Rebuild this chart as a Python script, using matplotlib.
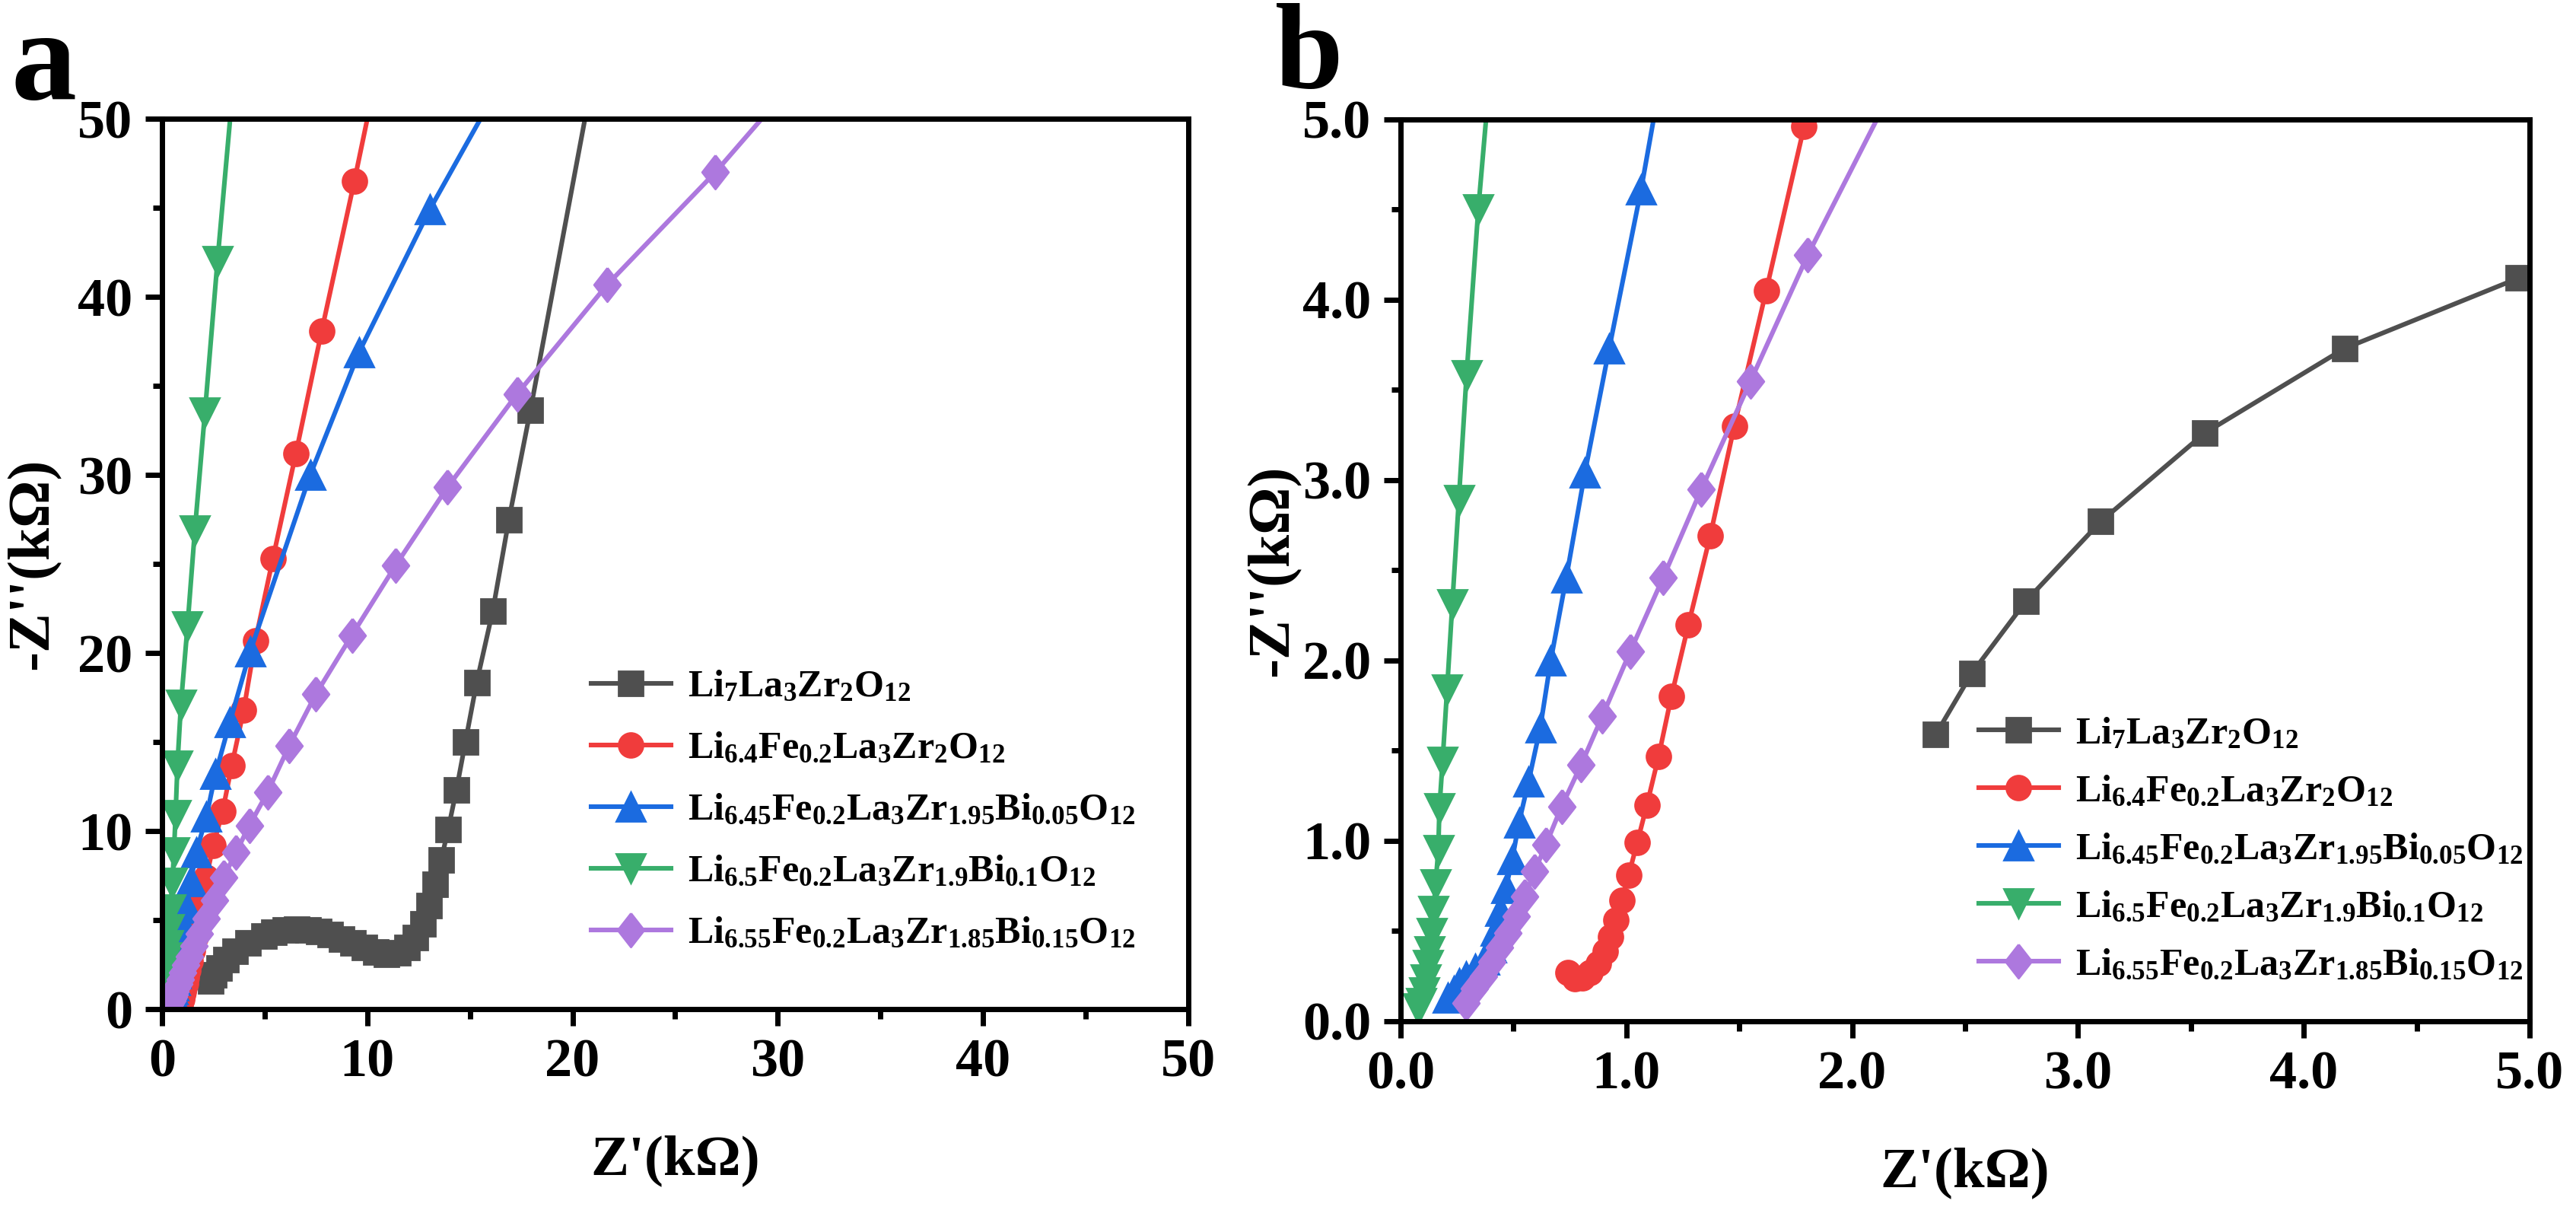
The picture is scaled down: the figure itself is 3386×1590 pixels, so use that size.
import matplotlib
matplotlib.use("Agg")
import matplotlib.pyplot as plt
from matplotlib.ticker import MultipleLocator, FormatStrFormatter

plt.rcParams["font.family"] = ["Liberation Serif", "DejaVu Serif"]
plt.rcParams["font.weight"] = "bold"
plt.rcParams["mathtext.fontset"] = "custom"
plt.rcParams["mathtext.rm"] = "Liberation Serif:bold"
plt.rcParams["mathtext.bf"] = "Liberation Serif:bold"
plt.rcParams["mathtext.it"] = "Liberation Serif:bold"

# Nyquist data, Z' and -Z'' in kOhm
llzo_x = [2.37, 2.53, 2.77, 3.10, 3.56, 4.18, 4.95, 5.45, 6.00, 6.55, 7.10, 7.65, 8.20,
          8.75, 9.30, 9.85, 10.40, 10.95, 11.50, 11.95, 12.35, 12.70, 13.00, 13.30,
          13.60, 13.94, 14.34, 14.78, 15.33, 16.11, 16.90, 17.95, 21.50]
llzo_y = [1.59, 1.93, 2.33, 2.77, 3.26, 3.73, 4.12, 4.33, 4.46, 4.50, 4.46, 4.35, 4.18,
          3.95, 3.70, 3.45, 3.22, 3.08, 3.15, 3.45, 4.00, 4.80, 5.80, 7.00,
          8.38, 10.10, 12.30, 15.00, 18.35, 22.35, 27.50, 33.65, 55.50]

fe_x = [0.74, 0.77, 0.805, 0.84, 0.875, 0.905, 0.93, 0.955, 0.98, 1.01, 1.048, 1.091,
        1.143, 1.199, 1.275, 1.371, 1.478, 1.619, 1.787, 1.98, 2.16, 2.50, 2.95, 3.40,
        3.98, 4.55, 5.40, 6.52, 7.78, 9.37, 11.25]
fe_y = [0.27, 0.235, 0.24, 0.27, 0.32, 0.39, 0.47, 0.56, 0.67, 0.81, 0.99, 1.20,
        1.47, 1.80, 2.20, 2.69, 3.30, 4.05, 4.96, 6.05, 7.40, 9.20, 11.10, 13.70,
        16.80, 20.70, 25.30, 31.20, 38.10, 46.50, 56.90]

bi05_x = [0.21, 0.235, 0.26, 0.29, 0.33, 0.37, 0.40, 0.42, 0.443, 0.467, 0.495, 0.524,
          0.567, 0.619, 0.665, 0.734, 0.816, 0.924, 1.065, 1.22, 1.41, 1.66, 2.16, 2.60,
          3.30, 4.30, 7.22, 9.60, 13.04, 17.70]
bi05_y = [0.13, 0.17, 0.21, 0.25, 0.29, 0.34, 0.41, 0.50, 0.61, 0.74, 0.90, 1.10,
          1.33, 1.63, 2.00, 2.46, 3.04, 3.73, 4.61, 5.70, 7.20, 8.80, 10.80, 13.20,
          16.10, 20.10, 30.00, 36.90, 44.90, 54.50]

bi10_x = [0.077, 0.091, 0.103, 0.112, 0.120, 0.129, 0.137, 0.146, 0.155, 0.167, 0.172,
          0.186, 0.206, 0.229, 0.258, 0.292, 0.344, 0.42, 0.50, 0.58, 0.66, 0.75, 0.92,
          1.24, 1.60, 2.09, 2.70, 3.55]
bi10_y = [0.07, 0.10, 0.16, 0.23, 0.31, 0.39, 0.49, 0.61, 0.76, 0.95, 1.18,
          1.44, 1.84, 2.31, 2.89, 3.58, 4.50, 5.60, 7.10, 8.80, 10.90, 13.70, 17.10,
          21.50, 26.90, 33.50, 42.00, 53.00]

bi15_x = [0.29, 0.326, 0.369, 0.404, 0.438, 0.476, 0.512, 0.550, 0.593, 0.644, 0.713,
          0.799, 0.893, 1.017, 1.163, 1.332, 1.55, 1.804, 2.15, 2.55, 3.00, 3.60, 4.25,
          5.15, 6.20, 7.50, 9.25, 11.37, 13.90, 17.30, 21.70, 26.96, 32.60]
bi15_y = [0.10, 0.18, 0.25, 0.33, 0.41, 0.49, 0.58, 0.69, 0.83, 0.98, 1.19,
          1.42, 1.69, 2.05, 2.46, 2.95, 3.55, 4.25, 5.10, 6.10, 7.40, 8.80, 10.30,
          12.20, 14.80, 17.70, 21.00, 24.90, 29.30, 34.55, 40.70, 47.00, 54.50]

labels = [
    r"$\mathbf{Li_{7}La_{3}Zr_{2}O_{12}}$",
    r"$\mathbf{Li_{6.4}Fe_{0.2}La_{3}Zr_{2}O_{12}}$",
    r"$\mathbf{Li_{6.45}Fe_{0.2}La_{3}Zr_{1.95}Bi_{0.05}O_{12}}$",
    r"$\mathbf{Li_{6.5}Fe_{0.2}La_{3}Zr_{1.9}Bi_{0.1}O_{12}}$",
    r"$\mathbf{Li_{6.55}Fe_{0.2}La_{3}Zr_{1.85}Bi_{0.15}O_{12}}$",
]
colors = ["#4F4F4F", "#F03C3C", "#1B6BE0", "#38AE6B", "#AD78DE"]
diamond = [(0, 1), (0.78, 0), (0, -1), (-0.78, 0), (0, 1)]  # slightly tall diamond
markers = ["s", "o", "^", "v", diamond]
msizes = [11.5, 11.5, 14, 14, 16]

series = [(llzo_x, llzo_y), (fe_x, fe_y), (bi05_x, bi05_y), (bi10_x, bi10_y), (bi15_x, bi15_y)]

fig = plt.figure(figsize=(16.93, 7.95), dpi=200)
ax_a = fig.add_axes([0.0629, 0.166, 0.3984, 0.7358])
ax_b = fig.add_axes([0.5437, 0.156, 0.4383, 0.7453])


def style_axes(ax, lim, major, minor, fmt, ypad):
    for (x, y), lab, c, m, ms in zip(series, labels, colors, markers, msizes):
        ax.plot(x, y, color=c, marker=m, markersize=ms, linewidth=2.2, label=lab)
    ax.set_xlim(0, lim)
    ax.set_ylim(0, lim)
    ax.xaxis.set_major_locator(MultipleLocator(major))
    ax.yaxis.set_major_locator(MultipleLocator(major))
    ax.xaxis.set_minor_locator(MultipleLocator(minor))
    ax.yaxis.set_minor_locator(MultipleLocator(minor))
    ax.xaxis.set_major_formatter(FormatStrFormatter(fmt))
    ax.yaxis.set_major_formatter(FormatStrFormatter(fmt))
    for s in ax.spines.values():
        s.set_linewidth(2.5)
    ax.tick_params(which="major", direction="out", length=8, width=2.5,
                   labelsize=26, pad=6, top=False, right=False)
    ax.tick_params(which="minor", direction="out", length=4.5, width=2.5,
                   top=False, right=False)
    ax.set_xlabel("Z'(kΩ)", fontsize=27, fontweight="bold", labelpad=22)
    ax.set_ylabel("-Z''(kΩ)", fontsize=28, fontweight="bold", labelpad=ypad)


style_axes(ax_a, 50, 10, 5, "%d", 8)
style_axes(ax_b, 5.0, 1.0, 0.5, "%.1f", 1)

ax_a.legend(loc="center left", bbox_to_anchor=(0.418, 0.223), frameon=False, fontsize=18,
            borderpad=0, borderaxespad=0, handlelength=2.1, handletextpad=0.45,
            labelspacing=0.7, numpoints=1)
ax_b.legend(loc="center left", bbox_to_anchor=(0.512, 0.190), frameon=False, fontsize=18,
            borderpad=0, borderaxespad=0, handlelength=2.1, handletextpad=0.45,
            labelspacing=0.6, numpoints=1)

fig.text(14 / 3386, 1 - 130 / 1590, "a", fontsize=62, fontweight="bold", va="baseline")
fig.text(1676 / 3386, 1 - 116 / 1590, "b", fontsize=58, fontweight="bold", va="baseline")

fig.savefig("out.png", dpi=200)
